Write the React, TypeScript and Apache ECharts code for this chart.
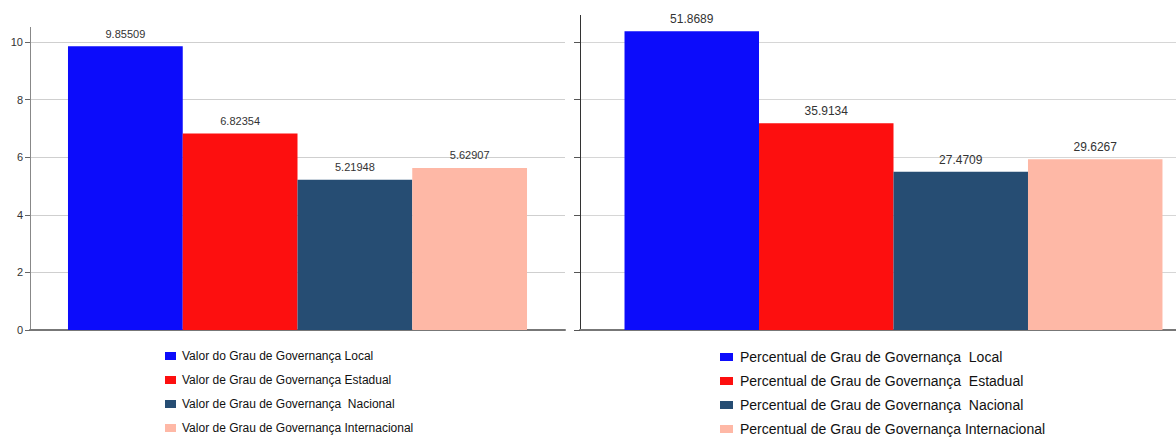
import React, { useEffect, useRef } from "react";
import * as echarts from "echarts";

const categories = ["Governança"];
const leftNames = [
  "Valor do Grau de Governança Local",
  "Valor de Grau de Governança Estadual",
  "Valor de Grau de Governança  Nacional",
  "Valor de Grau de Governança Internacional",
];
const leftValues = [9.85509, 6.82354, 5.21948, 5.62907];
const rightNames = [
  "Percentual de Grau de Governança  Local",
  "Percentual de Grau de Governança  Estadual",
  "Percentual de Grau de Governança  Nacional",
  "Percentual de Grau de Governança Internacional",
];
const rightValues = [51.8689, 35.9134, 27.4709, 29.6267];
const colors = ["#0c0cfb", "#fd0f0f", "#264d73", "#feb8a6"];

const FONT = "'Liberation Sans', Arial, sans-serif";

export default function App() {
  const ref = useRef<HTMLDivElement>(null);
  useEffect(() => {
    const chart = echarts.init(ref.current!, null, { renderer: "svg" });
    const mk = (names: string[], values: number[], idx: number, fs: number, dist: number) =>
      names.map((n, i) => ({
        name: n,
        type: "bar",
        xAxisIndex: idx,
        yAxisIndex: idx,
        barGap: "0%",
        barCategoryGap: "14.2%",
        clip: false,
        data: [values[i]],
        itemStyle: { color: colors[i] },
        label: {
          show: true,
          position: "top",
          distance: dist,
          color: "#333",
          fontSize: fs,
          fontFamily: FONT,
        },
      }));
    chart.setOption({
      animation: false,
      backgroundColor: "#fff",
      grid: [
        { left: 30, width: 535, top: 42, height: 288, outerBoundsMode: "none", containLabel: false },
        { left: 580, width: 627, top: 42, height: 288, outerBoundsMode: "none", containLabel: false },
      ],
      xAxis: [0, 1].map((i) => ({
        type: "category",
        gridIndex: i,
        data: categories,
        axisLabel: { show: false },
        axisTick: { show: false },
        axisLine: { lineStyle: { color: "#777", width: 2 } },
      })),
      yAxis: [
        {
          type: "value",
          gridIndex: 0,
          min: 0,
          max: 10,
          interval: 2,
          axisLine: { show: true, lineStyle: { color: "#888" } },
          axisTick: { show: true, length: 5, lineStyle: { color: "#666" } },
          axisLabel: { color: "#333", fontSize: 11, fontFamily: FONT, margin: 7 },
          splitLine: { lineStyle: { color: "#cfcfcf" } },
        },
        {
          type: "value",
          gridIndex: 1,
          min: 0,
          max: 50,
          interval: 10,
          axisLine: { show: true, lineStyle: { color: "#333" } },
          axisTick: { show: true, length: 6, lineStyle: { color: "#555" } },
          axisLabel: { show: false },
          splitLine: { lineStyle: { color: "#d6d6d6" } },
        },
      ],
      legend: [
        {
          data: leftNames,
          orient: "vertical",
          left: 165,
          top: 349,
          height: 120,
          padding: 0,
          icon: "rect",
          itemWidth: 11,
          itemHeight: 8,
          itemGap: 10,
          selectedMode: false,
          textStyle: { fontSize: 12, lineHeight: 14, color: "#111", fontFamily: FONT, padding: [0, 0, 0, 1] },
        },
        {
          data: rightNames,
          orient: "vertical",
          left: 720,
          top: 349,
          height: 120,
          padding: 0,
          icon: "rect",
          itemWidth: 13,
          itemHeight: 8,
          itemGap: 8,
          selectedMode: false,
          textStyle: { fontSize: 14, lineHeight: 16, color: "#111", fontFamily: FONT, padding: [0, 0, 0, 2] },
        },
      ],
      graphic: [
        { type: "line", shape: { x1: 30.5, y1: 27, x2: 30.5, y2: 42 }, style: { stroke: "#888", lineWidth: 1 } },
        { type: "line", shape: { x1: 580.5, y1: 15, x2: 580.5, y2: 42 }, style: { stroke: "#333", lineWidth: 1 } },
      ],
      series: [...mk(leftNames, leftValues, 0, 11, 7), ...mk(rightNames, rightValues, 1, 12, 6)],
    });
    return () => chart.dispose();
  }, []);
  return (
    <div
      ref={ref}
      style={{ position: "fixed", left: 0, top: 0, width: 1176, height: 437, overflow: "hidden" }}
    />
  );
}
